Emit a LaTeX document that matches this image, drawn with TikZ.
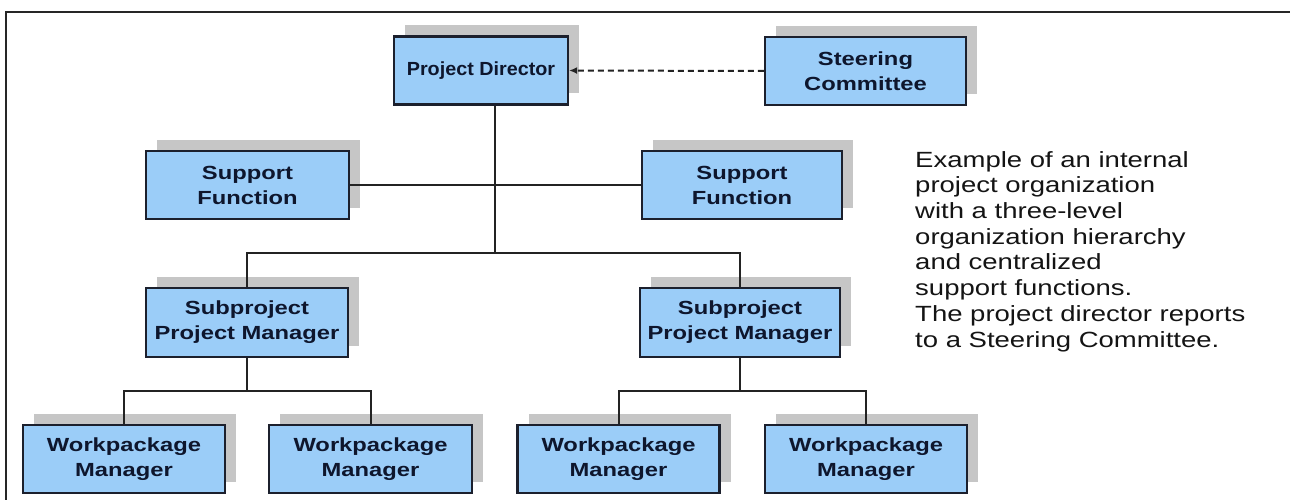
\documentclass[tikz,border=0pt]{standalone}
\usepackage{fontspec}
\setmainfont{Liberation Sans}[FakeStretch=1.25]
\newfontfamily\pdfont{Liberation Sans}[FakeStretch=1.04]
\usetikzlibrary{arrows.meta,calc,shadows}
\definecolor{boxblue}{RGB}{155,205,248}
\definecolor{boxedge}{RGB}{28,32,45}
\definecolor{shadowgray}{RGB}{198,198,198}
\definecolor{navy}{RGB}{14,22,45}
\definecolor{linecol}{RGB}{35,35,35}
\tikzset{
  orgbox/.style={draw=boxedge, line width=2.2pt, fill=boxblue, inner sep=0pt,
    minimum height=68pt, align=center, text=navy,
    font=\fontsize{19}{25}\selectfont\bfseries,
    general shadow={shadow xshift=11pt, shadow yshift=11pt, fill=shadowgray}},
  conn/.style={draw=linecol, line width=2pt},
  dasharrow/.style={draw=linecol, line width=2pt, dash pattern=on 6pt off 4pt,
    -{Latex[length=8pt,width=7pt]}},
  frameline/.style={draw=black!85, line width=2.4pt},
  note/.style={anchor=north west, align=left, inner sep=0pt, text=black!92,
    font=\fontsize{22}{25.7}\selectfont}
}
\begin{document}
\begin{tikzpicture}[x=1pt,y=-1pt]
\useasboundingbox (0,0) rectangle (1290,500);
\draw[frameline] (6,500) -- (6,12) -- (1290,12);

\node[orgbox, minimum width=174pt, font=\pdfont\fontsize{19}{23}\selectfont\bfseries] (pd) at (481,70.5) {Project Director};
\node[orgbox, minimum width=201pt] (sc) at (865.5,71) {Steering\\Committee};
\node[orgbox, minimum width=203pt] (sl) at (247.5,185) {Support\\Function};
\node[orgbox, minimum width=200pt] (sr) at (742,185) {Support\\Function};
\node[orgbox, minimum width=202pt, minimum height=69pt] (spl) at (247,322.5) {Subproject\\Project Manager};
\node[orgbox, minimum width=200pt, minimum height=69pt] (spr) at (740,322.5) {Subproject\\Project Manager};
\node[orgbox, minimum width=202pt] (wp1) at (124,459) {Workpackage\\Manager};
\node[orgbox, minimum width=203pt] (wp2) at (370.5,459) {Workpackage\\Manager};
\node[orgbox, minimum width=202pt] (wp3) at (618.5,459) {Workpackage\\Manager};
\node[orgbox, minimum width=202pt] (wp4) at (866,459) {Workpackage\\Manager};

\coordinate (j) at (495,253);
\coordinate (k1) at (247,391);
\coordinate (k2) at (740,391);

\draw[dasharrow] (sc.west) -- (pd.east);
\draw[conn] (pd.south -| j) -- (j);
\draw[conn] (sl.east) -- (sr.west);
\draw[conn] (spl.north) |- (j) -| (spr.north);
\draw[conn] (spl.south) -- (k1);
\draw[conn] (wp1.north) |- (k1) -| (wp2.north);
\draw[conn] (spr.south) -- (k2);
\draw[conn] (wp3.north) |- (k2) -| (wp4.north);

\node[note] (txt) at (915,151) {Example of an internal\\project organization\\with a three-level\\organization hierarchy\\and centralized\\support functions.\\The project director reports\\to a Steering Committee.};
\end{tikzpicture}
\end{document}
